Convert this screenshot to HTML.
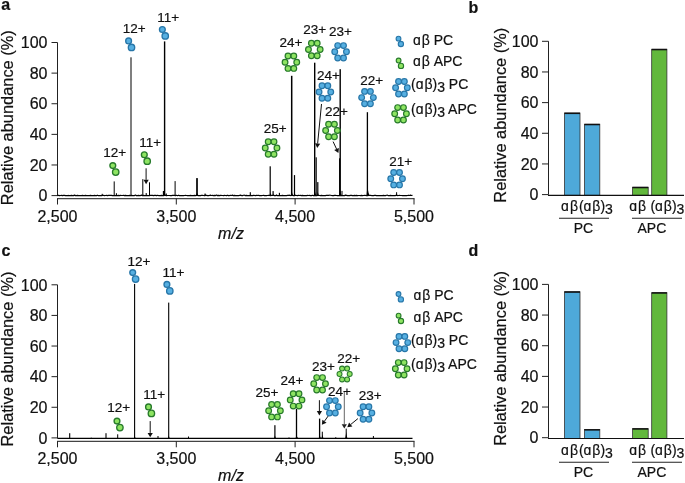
<!DOCTYPE html><html><head><meta charset="utf-8"><style>html,body{margin:0;padding:0;background:#fff;}svg{display:block;will-change:transform;}text{font-family:"Liberation Sans",sans-serif;fill:#111;stroke:#111;stroke-width:0.2px;}</style></head><body>
<svg width="685" height="483" viewBox="0 0 685 483">
<rect width="685" height="483" fill="#fff"/>
<text x="1.3" y="9.6" font-size="16" font-weight="bold">a</text>
<text x="468.5" y="13" font-size="16" font-weight="bold">b</text>
<text x="1.5" y="256.3" font-size="16" font-weight="bold">c</text>
<text x="468.5" y="256" font-size="16" font-weight="bold">d</text>
<g stroke="#222" stroke-width="1" fill="none">
<line x1="57.5" y1="42.5" x2="57.5" y2="196.1"/>
<line x1="51.5" y1="195.6" x2="57.5" y2="195.6"/>
<line x1="51.5" y1="164.98" x2="57.5" y2="164.98"/>
<line x1="51.5" y1="134.36" x2="57.5" y2="134.36"/>
<line x1="51.5" y1="103.74" x2="57.5" y2="103.74"/>
<line x1="51.5" y1="73.12" x2="57.5" y2="73.12"/>
<line x1="51.5" y1="42.5" x2="57.5" y2="42.5"/>
<line x1="57" y1="198.5" x2="414.5" y2="198.5" stroke="#444" stroke-width="1.25"/>
<line x1="57.5" y1="198.5" x2="57.5" y2="204.5"/>
<line x1="176.3" y1="198.5" x2="176.3" y2="204.5"/>
<line x1="295.1" y1="198.5" x2="295.1" y2="204.5"/>
<line x1="414" y1="198.5" x2="414" y2="204.5"/>
</g>
<text x="47.5" y="201.3" font-size="16" text-anchor="end">0</text>
<text x="47.5" y="170.68" font-size="16" text-anchor="end">20</text>
<text x="47.5" y="140.06" font-size="16" text-anchor="end">40</text>
<text x="47.5" y="109.44" font-size="16" text-anchor="end">60</text>
<text x="47.5" y="78.82" font-size="16" text-anchor="end">80</text>
<text x="47.5" y="48.2" font-size="16" text-anchor="end">100</text>
<text x="57.5" y="221.5" font-size="16" text-anchor="middle">2,500</text>
<text x="176.3" y="221.5" font-size="16" text-anchor="middle">3,500</text>
<text x="295.1" y="221.5" font-size="16" text-anchor="middle">4,500</text>
<text x="414" y="221.5" font-size="16" text-anchor="middle">5,500</text>
<text x="231" y="239" font-size="16" font-style="italic" text-anchor="middle">m/z</text>
<text transform="translate(12.8,117.7) rotate(-90)" font-size="16.4" text-anchor="middle">Relative abundance (%)</text>
<path d="M57.5 195.38L58.5 195.34L59.5 195.68L60.5 195.51L61.5 195.43L62.5 195.69L63.5 195.44L64.5 195.34L65.5 195.65L66.5 195.67L67.5 195.56L68.5 195.47L69.5 195.7L70.5 195.68L71.5 195.32L72.5 195.57L73.5 195.62L74.5 195.1L75.5 195.65L76.5 195.66L77.5 195.39L78.5 195.65L79.5 195.47L80.5 195.61L81.5 195.65L82.5 195.44L83.5 195.53L84.5 195.67L85.5 195.43L86.5 195.59L87.5 195.68L88.5 195.52L89.5 195.65L90.5 195.43L91.5 195.69L92.5 195.65L93.5 195.53L94.5 195.43L95.5 195.6L96.5 195.57L97.5 195.2L98.5 195.68L99.5 195.54L100.5 195.55L101.5 195.63L102.5 195.31L103.5 195.46L104.5 195.6L105.5 195.52L106.5 195.37L107.5 195.59L108.5 195.39L109.5 195.34L110.5 195.37L111.5 195.37L112.5 195.69L113.5 195.52L114.5 195.66L115.5 195.62L116.5 195.45L117.5 195.55L118.5 195.42L119.5 195.59L120.5 195.34L121.5 195.51L122.5 195.51L123.5 195.27L124.5 195.68L125.5 195.45L126.5 195.67L127.5 195.64L128.5 195.7L129.5 195.32L130.5 195.59L131.5 195.37L132.5 195.66L133.5 195.58L134.5 195.61L135.5 194.99L136.5 195.69L137.5 195.66L138.5 195.39L139.5 195.58L140.5 195.56L141.5 195.09L142.5 195.65L143.5 195.46L144.5 195.57L145.5 195.66L146.5 195.39L147.5 195.67L148.5 195.69L149.5 195.6L150.5 195.25L151.5 195.39L152.5 195.43L153.5 195.59L154.5 195.42L155.5 195.46L156.5 195.6L157.5 195.23L158.5 195.53L159.5 195.55L160.5 195.63L161.5 195.41L162.5 195.69L163.5 195.56L164.5 195.52L165.5 195.36L166.5 195.62L167.5 195.49L168.5 195.52L169.5 195.52L170.5 195.67L171.5 195.55L172.5 195.4L173.5 195.41L174.5 195.36L175.5 195.57L176.5 195.26L177.5 195.68L178.5 195.22L179.5 195.65L180.5 195.61L181.5 195.66L182.5 195.7L183.5 195.69L184.5 195.51L185.5 195.43L186.5 195.48L187.5 195.65L188.5 195.62L189.5 195.54L190.5 195.44L191.5 195.6L192.5 195.53L193.5 195.63L194.5 195.43L195.5 195.58L196.5 195.45L197.5 195.46L198.5 195.66L199.5 195.56L200.5 195.62L201.5 195.28L202.5 195.36L203.5 195.53L204.5 195.69L205.5 195.34L206.5 195.42L207.5 195.65L208.5 195.69L209.5 195.46L210.5 195.38L211.5 195.49L212.5 195.37L213.5 195.56L214.5 195.42L215.5 195.57L216.5 195.03L217.5 195.61L218.5 195.41L219.5 195.64L220.5 195.34L221.5 195.44L222.5 195.5L223.5 195.55L224.5 195.38L225.5 195.5L226.5 195.62L227.5 195.2L228.5 195.6L229.5 195.53L230.5 195.24L231.5 195.48L232.5 195.15L233.5 195.69L234.5 195.44L235.5 195.7L236.5 195.67L237.5 195.65L238.5 195.65L239.5 195.43L240.5 195.12L241.5 195.56L242.5 195.63L243.5 195.25L244.5 195.2L245.5 195.62L246.5 195.41L247.5 195.53L248.5 195.54L249.5 195.6L250.5 195.34L251.5 195.55L252.5 195.63L253.5 195.41L254.5 195.47L255.5 195.62L256.5 195.42L257.5 195.47L258.5 195.25L259.5 195.66L260.5 195.67L261.5 195.63L262.5 195.49L263.5 195.26L264.5 195.66L265.5 195.61L266.5 195.55L267.5 195.48L268.5 195.28L269.5 195.49L270.5 195.61L271.5 195.42L272.5 195.44L273.5 194.98L274.5 195.63L275.5 195.66L276.5 195.3L277.5 195.57L278.5 195.62L279.5 195.55L280.5 195.61L281.5 195.68L282.5 195.36L283.5 195.57L284.5 195.5L285.5 195.59L286.5 195.53L287.5 195.47L288.5 195.45L289.5 195.2L290.5 195.55L291.5 195.49L292.5 195.46L293.5 195.64L294.5 195.66L295.5 195.25L296.5 195.48L297.5 195.59L298.5 195.24L299.5 195.51L300.5 195.41L301.5 195.65L302.5 195.46L303.5 195.54L304.5 195.62L305.5 195.53L306.5 195.6L307.5 195.45L308.5 195.5L309.5 195.45L310.5 195.57L311.5 195.63L312.5 195.27L313.5 195.68L314.5 195.67L315.5 195.65L316.5 195.6L317.5 195.31L318.5 195.36L319.5 195.52L320.5 195.65L321.5 195.44L322.5 195.68L323.5 195.59L324.5 195.6L325.5 195.68L326.5 195.29L327.5 195.26L328.5 195.37L329.5 195.22L330.5 195.24L331.5 195.52L332.5 195.59L333.5 195.69L334.5 195.42L335.5 195.41L336.5 195.49L337.5 195.66L338.5 195.69L339.5 195.49L340.5 195.68L341.5 195.48L342.5 195.54L343.5 195.67L344.5 195.62L345.5 195.13L346.5 195.36L347.5 195.58L348.5 195.68L349.5 195.62L350.5 195.36L351.5 195.39L352.5 195.66L353.5 195.56L354.5 195.36L355.5 195.68L356.5 195.39L357.5 195.63L358.5 195.52L359.5 195.52L360.5 195.6L361.5 195.43L362.5 195.67L363.5 195.49L364.5 195.41L365.5 195.47L366.5 195.61L367.5 195.62L368.5 195.49L369.5 195.5L370.5 195.26L371.5 195.53L372.5 195.57L373.5 195.54L374.5 195.43L375.5 195.4L376.5 195.54L377.5 195.7L378.5 195.65L379.5 195.7L380.5 195.6L381.5 195.61L382.5 195.67L383.5 195.38L384.5 195.54L385.5 195.59L386.5 195.27L387.5 195.2L388.5 195.68L389.5 195.53L390.5 195.46L391.5 195.67L392.5 195.6L393.5 195.55L394.5 195.65L395.5 195.58L396.5 194.99L397.5 195.6L398.5 195.5L399.5 195.46L400.5 195.51L401.5 195.52L402.5 195.6L403.5 195.59L404.5 195.61L405.5 195.65L406.5 195.67L407.5 195.48L408.5 195.21L409.5 195.52L410.5 195.19L411.5 195.48L412.5 195.35" fill="none" stroke="#000" stroke-width="1.2" stroke-linejoin="round"/>
<rect x="101.7" y="193.8" width="1" height="2.2" fill="#000"/>
<rect x="113.7" y="181.4" width="1" height="14.6" fill="#000"/>
<rect x="115.9" y="193.2" width="1" height="2.8" fill="#000"/>
<rect x="130.5" y="57.3" width="1" height="138.7" fill="#000"/>
<rect x="142.3" y="179.2" width="1" height="16.8" fill="#000"/>
<rect x="145.7" y="193" width="1" height="3" fill="#000"/>
<rect x="149" y="182.3" width="1" height="13.7" fill="#000"/>
<rect x="162.85" y="191" width="1.3" height="5" fill="#000"/>
<rect x="163.9" y="41.4" width="1.4" height="154.6" fill="#000"/>
<path d="M164.6 191.7Q165.3 195.2 166.5 195.7L163.6 195.7Q163.9 195.2 164.6 191.7Z" fill="#000"/>
<rect x="166.2" y="193.5" width="0.8" height="2.5" fill="#000"/>
<rect x="174.6" y="181.1" width="1" height="14.9" fill="#000"/>
<rect x="196.15" y="178.1" width="1.7" height="17.9" fill="#000"/>
<path d="M197 192.7Q197.85 195.2 198.85 195.7L195.85 195.7Q196.15 195.2 197 192.7Z" fill="#000"/>
<rect x="204.45" y="193.6" width="1.3" height="2.4" fill="#000"/>
<rect x="209.9" y="194.6" width="0.8" height="1.4" fill="#000"/>
<rect x="249.75" y="192.2" width="1.1" height="3.8" fill="#000"/>
<rect x="269.6" y="166.3" width="1.2" height="29.7" fill="#000"/>
<path d="M270.2 192.7Q270.8 195.2 271.8 195.7L269.3 195.7Q269.6 195.2 270.2 192.7Z" fill="#000"/>
<rect x="272.5" y="191.1" width="1.2" height="4.9" fill="#000"/>
<rect x="276.2" y="194.5" width="0.8" height="1.5" fill="#000"/>
<rect x="278.85" y="192.8" width="1.1" height="3.2" fill="#000"/>
<rect x="290.95" y="75.8" width="1.5" height="120.2" fill="#000"/>
<path d="M291.7 190.7Q292.45 195.2 293.75 195.7L290.55 195.7Q290.95 195.2 291.7 190.7Z" fill="#000"/>
<rect x="293.9" y="175.1" width="1.2" height="20.9" fill="#000"/>
<path d="M294.5 192.7Q295.1 195.2 296.1 195.7L293.6 195.7Q293.9 195.2 294.5 192.7Z" fill="#000"/>
<rect x="314" y="62.7" width="1.4" height="133.3" fill="#000"/>
<path d="M314.7 189.7Q315.4 195.2 316.9 195.7L313.6 195.7Q314 195.2 314.7 189.7Z" fill="#000"/>
<rect x="315.65" y="157.3" width="1.1" height="38.7" fill="#000"/>
<rect x="317.2" y="182.1" width="1.2" height="13.9" fill="#000"/>
<path d="M317.8 191.7Q318.4 195.2 319.4 195.7L317 195.7Q317.2 195.2 317.8 191.7Z" fill="#000"/>
<rect x="339.05" y="158.3" width="1.1" height="37.7" fill="#000"/>
<rect x="339.5" y="69.2" width="1.4" height="126.8" fill="#000"/>
<path d="M340.2 189.7Q340.9 195.2 342.4 195.7L339.1 195.7Q339.5 195.2 340.2 189.7Z" fill="#000"/>
<rect x="341.5" y="190.9" width="1" height="5.1" fill="#000"/>
<rect x="366.75" y="112.2" width="1.3" height="83.8" fill="#000"/>
<path d="M367.4 184.7Q368.05 195.2 370.65 195.7L366.35 195.7Q366.75 195.2 367.4 184.7Z" fill="#000"/>
<rect x="396.1" y="192.2" width="1" height="3.8" fill="#000"/>
<text x="134.2" y="33.4" font-size="13.5" text-anchor="middle">12+</text>
<g fill="#56afe1" stroke="#2776a8" stroke-width="1.35">
<circle cx="128.6" cy="40.9" r="2.9"/>
<circle cx="131.5" cy="47.4" r="3.2"/>
</g>
<text x="168.2" y="21.6" font-size="13.5" text-anchor="middle">11+</text>
<g fill="#56afe1" stroke="#2776a8" stroke-width="1.35">
<circle cx="162.35" cy="29.45" r="2.9"/>
<circle cx="165.25" cy="35.95" r="3.2"/>
</g>
<text x="114.8" y="157.3" font-size="13.5" text-anchor="middle">12+</text>
<g fill="#8ee462" stroke="#277a2b" stroke-width="1.35">
<circle cx="112.8" cy="165.6" r="2.9"/>
<circle cx="115.7" cy="172.1" r="3.2"/>
</g>
<text x="150.2" y="146.6" font-size="13.5" text-anchor="middle">11+</text>
<g fill="#8ee462" stroke="#277a2b" stroke-width="1.35">
<circle cx="144.3" cy="154.7" r="2.9"/>
<circle cx="147.2" cy="161.2" r="3.2"/>
</g>
<line x1="146.1" y1="168.3" x2="146.1" y2="179.8" stroke="#111" stroke-width="1"/>
<path d="M146.1 184.2L143.5 179.8L148.7 179.8Z" fill="#111"/>
<text x="275.2" y="133.3" font-size="13.5" text-anchor="middle">25+</text>
<g fill="#8ee462" stroke="#277a2b" stroke-width="1.2">
<circle cx="268.2" cy="141.8" r="2.85"/>
<circle cx="274" cy="141.8" r="2.85"/>
<circle cx="265.25" cy="148" r="2.85"/>
<circle cx="276.95" cy="148" r="2.85"/>
<circle cx="268.2" cy="154.2" r="2.85"/>
<circle cx="274" cy="154.2" r="2.85"/>
</g>
<text x="291" y="47.2" font-size="13.5" text-anchor="middle">24+</text>
<g fill="#8ee462" stroke="#277a2b" stroke-width="1.2">
<circle cx="288" cy="56" r="2.85"/>
<circle cx="293.8" cy="56" r="2.85"/>
<circle cx="285.05" cy="62.2" r="2.85"/>
<circle cx="296.75" cy="62.2" r="2.85"/>
<circle cx="288" cy="68.4" r="2.85"/>
<circle cx="293.8" cy="68.4" r="2.85"/>
</g>
<text x="314.8" y="33.5" font-size="13.5" text-anchor="middle">23+</text>
<g fill="#8ee462" stroke="#277a2b" stroke-width="1.2">
<circle cx="311.4" cy="43.3" r="2.85"/>
<circle cx="317.2" cy="43.3" r="2.85"/>
<circle cx="308.45" cy="49.5" r="2.85"/>
<circle cx="320.15" cy="49.5" r="2.85"/>
<circle cx="311.4" cy="55.7" r="2.85"/>
<circle cx="317.2" cy="55.7" r="2.85"/>
</g>
<text x="340.5" y="36.1" font-size="13.5" text-anchor="middle">23+</text>
<g fill="#56afe1" stroke="#2776a8" stroke-width="1.2">
<circle cx="337.7" cy="45.6" r="2.85"/>
<circle cx="343.5" cy="45.6" r="2.85"/>
<circle cx="334.75" cy="51.8" r="2.85"/>
<circle cx="346.45" cy="51.8" r="2.85"/>
<circle cx="337.7" cy="58" r="2.85"/>
<circle cx="343.5" cy="58" r="2.85"/>
</g>
<text x="328.5" y="80.3" font-size="13.5" text-anchor="middle">24+</text>
<g fill="#56afe1" stroke="#2776a8" stroke-width="1.2">
<circle cx="322" cy="85.8" r="2.85"/>
<circle cx="327.8" cy="85.8" r="2.85"/>
<circle cx="319.05" cy="92" r="2.85"/>
<circle cx="330.75" cy="92" r="2.85"/>
<circle cx="322" cy="98.2" r="2.85"/>
<circle cx="327.8" cy="98.2" r="2.85"/>
</g>
<line x1="321.5" y1="104" x2="317.63" y2="143.52" stroke="#111" stroke-width="1"/>
<path d="M317.2 147.9L315.04 143.27L320.22 143.77Z" fill="#111"/>
<text x="336.5" y="116" font-size="13.5" text-anchor="middle">22+</text>
<g fill="#8ee462" stroke="#277a2b" stroke-width="1.2">
<circle cx="328.6" cy="124.3" r="2.85"/>
<circle cx="334.4" cy="124.3" r="2.85"/>
<circle cx="325.65" cy="130.5" r="2.85"/>
<circle cx="337.35" cy="130.5" r="2.85"/>
<circle cx="328.6" cy="136.7" r="2.85"/>
<circle cx="334.4" cy="136.7" r="2.85"/>
</g>
<line x1="333.1" y1="141.6" x2="336.55" y2="149.01" stroke="#111" stroke-width="1"/>
<path d="M338.4 153L334.19 150.11L338.9 147.91Z" fill="#111"/>
<text x="371.7" y="84.5" font-size="13.5" text-anchor="middle">22+</text>
<g fill="#56afe1" stroke="#2776a8" stroke-width="1.2">
<circle cx="364.6" cy="91.4" r="2.85"/>
<circle cx="370.4" cy="91.4" r="2.85"/>
<circle cx="361.65" cy="97.6" r="2.85"/>
<circle cx="373.35" cy="97.6" r="2.85"/>
<circle cx="364.6" cy="103.8" r="2.85"/>
<circle cx="370.4" cy="103.8" r="2.85"/>
</g>
<text x="400.7" y="165.7" font-size="13.5" text-anchor="middle">21+</text>
<g fill="#56afe1" stroke="#2776a8" stroke-width="1.2">
<circle cx="393.7" cy="172.5" r="2.85"/>
<circle cx="399.5" cy="172.5" r="2.85"/>
<circle cx="390.75" cy="178.7" r="2.85"/>
<circle cx="402.45" cy="178.7" r="2.85"/>
<circle cx="393.7" cy="184.9" r="2.85"/>
<circle cx="399.5" cy="184.9" r="2.85"/>
</g>
<g fill="#56afe1" stroke="#2776a8" stroke-width="1.11">
<circle cx="398.5" cy="38.65" r="2.38"/>
<circle cx="400.88" cy="43.98" r="2.62"/>
</g>
<text x="412.9" y="44.7" font-size="14" text-anchor="start">ɑ<tspan dx="1">β</tspan> PC</text>
<g fill="#8ee462" stroke="#277a2b" stroke-width="1.11">
<circle cx="398.6" cy="60.55" r="2.38"/>
<circle cx="400.98" cy="65.88" r="2.62"/>
</g>
<text x="412.9" y="66.4" font-size="14" text-anchor="start">ɑ<tspan dx="1">β</tspan> APC</text>
<g fill="#56afe1" stroke="#2776a8" stroke-width="1.2">
<circle cx="398.55" cy="81.55" r="2.85"/>
<circle cx="404.35" cy="81.55" r="2.85"/>
<circle cx="395.6" cy="87.75" r="2.85"/>
<circle cx="407.3" cy="87.75" r="2.85"/>
<circle cx="398.55" cy="93.95" r="2.85"/>
<circle cx="404.35" cy="93.95" r="2.85"/>
</g>
<text x="411" y="89.3" font-size="14" text-anchor="start">(ɑ<tspan dx="1">β</tspan>)<tspan dy="3">3</tspan><tspan dy="-3"> PC</tspan></text>
<g fill="#8ee462" stroke="#277a2b" stroke-width="1.2">
<circle cx="397.65" cy="107.6" r="2.85"/>
<circle cx="403.45" cy="107.6" r="2.85"/>
<circle cx="394.7" cy="113.8" r="2.85"/>
<circle cx="406.4" cy="113.8" r="2.85"/>
<circle cx="397.65" cy="120" r="2.85"/>
<circle cx="403.45" cy="120" r="2.85"/>
</g>
<text x="411" y="114.3" font-size="14" text-anchor="start">(ɑ<tspan dx="1">β</tspan>)<tspan dy="3">3</tspan><tspan dy="-3"> APC</tspan></text>
<g stroke="#222" stroke-width="1" fill="none">
<line x1="548.5" y1="41.3" x2="548.5" y2="194.6"/>
<line x1="542" y1="194.6" x2="548.5" y2="194.6"/>
<line x1="542" y1="163.94" x2="548.5" y2="163.94"/>
<line x1="542" y1="133.28" x2="548.5" y2="133.28"/>
<line x1="542" y1="102.62" x2="548.5" y2="102.62"/>
<line x1="542" y1="71.96" x2="548.5" y2="71.96"/>
<line x1="542" y1="41.3" x2="548.5" y2="41.3"/>
</g>
<rect x="564.5" y="113.04" width="15.5" height="82.26" fill="#4ea9d9" stroke="#333" stroke-width="0.8"/>
<line x1="564.5" y1="113.34" x2="580" y2="113.34" stroke="#111" stroke-width="1.5"/>
<rect x="584.5" y="124.24" width="15.3" height="71.06" fill="#4ea9d9" stroke="#333" stroke-width="0.8"/>
<line x1="584.5" y1="124.54" x2="599.8" y2="124.54" stroke="#111" stroke-width="1.5"/>
<rect x="632.6" y="187.24" width="15.6" height="8.06" fill="#62b83c" stroke="#333" stroke-width="0.8"/>
<line x1="632.6" y1="187.54" x2="648.2" y2="187.54" stroke="#111" stroke-width="1.5"/>
<rect x="651.7" y="49.27" width="15.2" height="146.03" fill="#62b83c" stroke="#333" stroke-width="0.8"/>
<line x1="651.7" y1="49.57" x2="666.9" y2="49.57" stroke="#111" stroke-width="1.5"/>
<line x1="548" y1="195.4" x2="684" y2="195.4" stroke="#111" stroke-width="1.2"/>
<text x="538.5" y="200.3" font-size="16" text-anchor="end">0</text>
<text x="538.5" y="169.64" font-size="16" text-anchor="end">20</text>
<text x="538.5" y="138.98" font-size="16" text-anchor="end">40</text>
<text x="538.5" y="108.32" font-size="16" text-anchor="end">60</text>
<text x="538.5" y="77.66" font-size="16" text-anchor="end">80</text>
<text x="538.5" y="47" font-size="16" text-anchor="end">100</text>
<text transform="translate(506.3,115.2) rotate(-90)" font-size="16.4" text-anchor="middle">Relative abundance (%)</text>
<text x="561.1" y="210.8" font-size="14" text-anchor="start">ɑ<tspan dx="1">β</tspan></text>
<text x="578.9" y="210.8" font-size="14" text-anchor="start">(ɑ<tspan dx="1">β</tspan>)<tspan dy="3">3</tspan><tspan dy="-3"></tspan></text>
<text x="629.2" y="210.8" font-size="14" text-anchor="start">ɑ<tspan dx="1">β</tspan></text>
<text x="650.4" y="210.8" font-size="14" text-anchor="start">(ɑ<tspan dx="1">β</tspan>)<tspan dy="3">3</tspan><tspan dy="-3"></tspan></text>
<line x1="559" y1="218.2" x2="609" y2="218.2" stroke="#222" stroke-width="1.1"/>
<line x1="632" y1="218.2" x2="682" y2="218.2" stroke="#222" stroke-width="1.1"/>
<text x="583.5" y="232.5" font-size="14" text-anchor="middle">PC</text>
<text x="651.9" y="232.5" font-size="14" text-anchor="middle">APC</text>
<g stroke="#222" stroke-width="1" fill="none">
<line x1="57.5" y1="284.8" x2="57.5" y2="438.4"/>
<line x1="51.5" y1="437.9" x2="57.5" y2="437.9"/>
<line x1="51.5" y1="407.28" x2="57.5" y2="407.28"/>
<line x1="51.5" y1="376.66" x2="57.5" y2="376.66"/>
<line x1="51.5" y1="346.04" x2="57.5" y2="346.04"/>
<line x1="51.5" y1="315.42" x2="57.5" y2="315.42"/>
<line x1="51.5" y1="284.8" x2="57.5" y2="284.8"/>
<line x1="57" y1="441.3" x2="414.5" y2="441.3" stroke="#444" stroke-width="1.25"/>
<line x1="57.5" y1="441.3" x2="57.5" y2="447.3"/>
<line x1="176.3" y1="441.3" x2="176.3" y2="447.3"/>
<line x1="295.1" y1="441.3" x2="295.1" y2="447.3"/>
<line x1="414" y1="441.3" x2="414" y2="447.3"/>
</g>
<text x="47.5" y="443.6" font-size="16" text-anchor="end">0</text>
<text x="47.5" y="412.98" font-size="16" text-anchor="end">20</text>
<text x="47.5" y="382.36" font-size="16" text-anchor="end">40</text>
<text x="47.5" y="351.74" font-size="16" text-anchor="end">60</text>
<text x="47.5" y="321.12" font-size="16" text-anchor="end">80</text>
<text x="47.5" y="290.5" font-size="16" text-anchor="end">100</text>
<text x="57.5" y="463.6" font-size="16" text-anchor="middle">2,500</text>
<text x="176.3" y="463.6" font-size="16" text-anchor="middle">3,500</text>
<text x="295.1" y="463.6" font-size="16" text-anchor="middle">4,500</text>
<text x="414" y="463.6" font-size="16" text-anchor="middle">5,500</text>
<text x="231" y="481.1" font-size="16" font-style="italic" text-anchor="middle">m/z</text>
<text transform="translate(12.8,359) rotate(-90)" font-size="16.4" text-anchor="middle">Relative abundance (%)</text>
<path d="M57.5 438.33L58.5 438.42L59.5 438.43L60.5 438.44L61.5 438.41L62.5 438.38L63.5 438.43L64.5 438.41L65.5 438.4L66.5 438.41L67.5 438.42L68.5 438.44L69.5 438.4L70.5 438.43L71.5 438.42L72.5 438.29L73.5 438.39L74.5 438.43L75.5 438.41L76.5 438.44L77.5 438.44L78.5 438.45L79.5 438.41L80.5 438.44L81.5 438.37L82.5 438.38L83.5 438.39L84.5 438.44L85.5 438.45L86.5 438.44L87.5 438.44L88.5 438.43L89.5 438.27L90.5 438.44L91.5 438.44L92.5 438.42L93.5 438.38L94.5 438.39L95.5 438.44L96.5 438.34L97.5 438.44L98.5 438.36L99.5 438.36L100.5 438.34L101.5 438.42L102.5 438.44L103.5 438.45L104.5 438.37L105.5 438.39L106.5 438.44L107.5 438.34L108.5 438.44L109.5 438.36L110.5 438.45L111.5 438.39L112.5 438.37L113.5 438.41L114.5 438.42L115.5 438.35L116.5 438.4L117.5 438.44L118.5 438.39L119.5 438.44L120.5 438.41L121.5 438.44L122.5 438.42L123.5 438.42L124.5 438.43L125.5 438.41L126.5 438.43L127.5 438.37L128.5 438.43L129.5 438.39L130.5 438.45L131.5 438.41L132.5 438.4L133.5 438.44L134.5 438.42L135.5 438.33L136.5 438.44L137.5 438.44L138.5 438.44L139.5 438.42L140.5 438.38L141.5 438.42L142.5 438.43L143.5 438.45L144.5 438.43L145.5 438.43L146.5 438.42L147.5 438.44L148.5 438.35L149.5 438.4L150.5 438.41L151.5 438.43L152.5 438.42L153.5 438.42L154.5 438.35L155.5 438.38L156.5 438.41L157.5 438.4L158.5 438.44L159.5 438.41L160.5 438.38L161.5 438.34L162.5 438.39L163.5 438.37L164.5 438.44L165.5 438.41L166.5 438.44L167.5 438.44L168.5 438.42L169.5 438.42L170.5 438.38L171.5 438.44L172.5 438.44L173.5 438.42L174.5 438.45L175.5 438.41L176.5 438.44L177.5 438.39L178.5 438.4L179.5 438.42L180.5 438.42L181.5 438.4L182.5 438.44L183.5 438.44L184.5 438.37L185.5 438.38L186.5 438.4L187.5 438.4L188.5 438.39L189.5 438.41L190.5 438.44L191.5 438.43L192.5 438.41L193.5 438.41L194.5 438.42L195.5 438.43L196.5 438.43L197.5 438.41L198.5 438.42L199.5 438.42L200.5 438.45L201.5 438.41L202.5 438.44L203.5 438.41L204.5 438.42L205.5 438.39L206.5 438.44L207.5 438.44L208.5 438.44L209.5 438.42L210.5 438.44L211.5 438.39L212.5 438.41L213.5 438.31L214.5 438.44L215.5 438.3L216.5 438.39L217.5 438.44L218.5 438.4L219.5 438.45L220.5 438.38L221.5 438.39L222.5 438.39L223.5 438.44L224.5 438.41L225.5 438.4L226.5 438.42L227.5 438.44L228.5 438.45L229.5 438.43L230.5 438.44L231.5 438.44L232.5 438.41L233.5 438.42L234.5 438.43L235.5 438.45L236.5 438.42L237.5 438.39L238.5 438.44L239.5 438.42L240.5 438.38L241.5 438.42L242.5 438.34L243.5 438.37L244.5 438.43L245.5 438.4L246.5 438.43L247.5 438.44L248.5 438.44L249.5 438.4L250.5 438.42L251.5 438.44L252.5 438.43L253.5 438.43L254.5 438.4L255.5 438.34L256.5 438.44L257.5 438.42L258.5 438.42L259.5 438.4L260.5 438.45L261.5 438.37L262.5 438.44L263.5 438.42L264.5 438.42L265.5 438.41L266.5 438.39L267.5 438.4L268.5 438.44L269.5 438.4L270.5 438.42L271.5 438.43L272.5 438.39L273.5 438.41L274.5 438.43L275.5 438.37L276.5 438.37L277.5 438.38L278.5 438.41L279.5 438.43L280.5 438.39L281.5 438.41L282.5 438.41L283.5 438.45L284.5 438.4L285.5 438.43L286.5 438.43L287.5 438.36L288.5 438.4L289.5 438.37L290.5 438.35L291.5 438.45L292.5 438.44L293.5 438.4L294.5 438.38L295.5 438.44L296.5 438.39L297.5 438.42L298.5 438.41L299.5 438.44L300.5 438.41L301.5 438.39L302.5 438.44L303.5 438.36L304.5 438.42L305.5 438.36L306.5 438.41L307.5 438.44L308.5 438.42L309.5 438.41L310.5 438.45L311.5 438.38L312.5 438.42L313.5 438.39L314.5 438.42L315.5 438.44L316.5 438.43L317.5 438.34L318.5 438.31L319.5 438.42L320.5 438.41L321.5 438.43L322.5 438.44L323.5 438.33L324.5 438.36L325.5 438.43L326.5 438.43L327.5 438.44L328.5 438.42L329.5 438.41L330.5 438.38L331.5 438.39L332.5 438.43L333.5 438.4L334.5 438.41L335.5 438.37L336.5 438.42L337.5 438.4L338.5 438.42L339.5 438.44L340.5 438.41L341.5 438.41L342.5 438.42L343.5 438.44L344.5 438.4L345.5 438.36L346.5 438.45L347.5 438.42L348.5 438.44L349.5 438.44L350.5 438.45L351.5 438.36L352.5 438.39L353.5 438.42L354.5 438.4L355.5 438.4L356.5 438.44L357.5 438.42L358.5 438.34L359.5 438.43L360.5 438.4L361.5 438.41L362.5 438.44L363.5 438.45L364.5 438.38L365.5 438.44L366.5 438.35L367.5 438.44L368.5 438.38L369.5 438.39L370.5 438.41L371.5 438.38L372.5 438.44L373.5 438.39L374.5 438.45L375.5 438.43L376.5 438.35L377.5 438.4L378.5 438.38L379.5 438.33L380.5 438.44L381.5 438.44L382.5 438.38L383.5 438.36L384.5 438.39L385.5 438.38L386.5 438.4L387.5 438.45L388.5 438.42L389.5 438.45L390.5 438.38L391.5 438.42L392.5 438.37L393.5 438.41L394.5 438.4L395.5 438.41L396.5 438.43L397.5 438.4L398.5 438.43L399.5 438.41L400.5 438.32L401.5 438.45L402.5 438.45L403.5 438.36L404.5 438.44L405.5 438.4L406.5 438.38L407.5 438.38L408.5 438.44L409.5 438.43L410.5 438.42L411.5 438.44L412.5 438.45" fill="none" stroke="#000" stroke-width="1.2" stroke-linejoin="round"/>
<rect x="69.15" y="433.2" width="1.1" height="5.55" fill="#000"/>
<rect x="90.8" y="437.6" width="0.8" height="1.15" fill="#000"/>
<rect x="105.45" y="433.2" width="1.1" height="5.55" fill="#000"/>
<rect x="117.2" y="434.3" width="1" height="4.45" fill="#000"/>
<rect x="134.05" y="283.9" width="1.1" height="154.85" fill="#000"/>
<path d="M134.6 435.45Q135.15 437.95 136.15 438.45L133.75 438.45Q134.05 437.95 134.6 435.45Z" fill="#000"/>
<rect x="157.5" y="436" width="1" height="2.75" fill="#000"/>
<rect x="168.15" y="302.6" width="1.1" height="136.15" fill="#000"/>
<path d="M168.7 435.45Q169.25 437.95 170.25 438.45L167.85 438.45Q168.15 437.95 168.7 435.45Z" fill="#000"/>
<rect x="188" y="436.5" width="1" height="2.25" fill="#000"/>
<rect x="274.3" y="425.2" width="1.2" height="13.55" fill="#000"/>
<path d="M274.9 435.45Q275.5 437.95 276.5 438.45L274 438.45Q274.3 437.95 274.9 435.45Z" fill="#000"/>
<rect x="288.6" y="437.3" width="0.8" height="1.45" fill="#000"/>
<rect x="295.85" y="409" width="1.3" height="29.75" fill="#000"/>
<path d="M296.5 434.45Q297.15 437.95 298.35 438.45L295.55 438.45Q295.85 437.95 296.5 434.45Z" fill="#000"/>
<rect x="318.95" y="418.6" width="1.3" height="20.15" fill="#000"/>
<path d="M319.6 434.45Q320.25 437.95 321.25 438.45L318.65 438.45Q318.95 437.95 319.6 434.45Z" fill="#000"/>
<rect x="321.8" y="431.7" width="1" height="7.05" fill="#000"/>
<path d="M322.3 434.45Q322.8 437.95 323.8 438.45L321.2 438.45Q321.8 437.95 322.3 434.45Z" fill="#000"/>
<rect x="335.4" y="437" width="0.8" height="1.75" fill="#000"/>
<rect x="345.7" y="428.6" width="1" height="10.15" fill="#000"/>
<path d="M346.2 431.45Q346.7 437.95 348 438.45L344.7 438.45Q345.7 437.95 346.2 431.45Z" fill="#000"/>
<rect x="372.9" y="436" width="1" height="2.75" fill="#000"/>
<text x="138.9" y="265.6" font-size="13.5" text-anchor="middle">12+</text>
<g fill="#56afe1" stroke="#2776a8" stroke-width="1.35">
<circle cx="132.7" cy="272.6" r="2.9"/>
<circle cx="135.6" cy="279.1" r="3.2"/>
</g>
<text x="173.5" y="277.2" font-size="13.5" text-anchor="middle">11+</text>
<g fill="#56afe1" stroke="#2776a8" stroke-width="1.35">
<circle cx="166.9" cy="284.4" r="2.9"/>
<circle cx="169.8" cy="290.9" r="3.2"/>
</g>
<text x="118.6" y="411.5" font-size="13.5" text-anchor="middle">12+</text>
<g fill="#8ee462" stroke="#277a2b" stroke-width="1.35">
<circle cx="117" cy="421.1" r="2.9"/>
<circle cx="119.9" cy="427.6" r="3.2"/>
</g>
<text x="154.3" y="399.4" font-size="13.5" text-anchor="middle">11+</text>
<g fill="#8ee462" stroke="#277a2b" stroke-width="1.35">
<circle cx="148.5" cy="406.9" r="2.9"/>
<circle cx="151.4" cy="413.4" r="3.2"/>
</g>
<line x1="150.2" y1="421.1" x2="150.2" y2="432.9" stroke="#111" stroke-width="1"/>
<path d="M150.2 437.3L147.6 432.9L152.8 432.9Z" fill="#111"/>
<text x="267" y="397.1" font-size="13.5" text-anchor="middle">25+</text>
<g fill="#8ee462" stroke="#277a2b" stroke-width="1.2">
<circle cx="271.6" cy="404.5" r="2.85"/>
<circle cx="277.4" cy="404.5" r="2.85"/>
<circle cx="268.65" cy="410.7" r="2.85"/>
<circle cx="280.35" cy="410.7" r="2.85"/>
<circle cx="271.6" cy="416.9" r="2.85"/>
<circle cx="277.4" cy="416.9" r="2.85"/>
</g>
<text x="291.9" y="385.4" font-size="13.5" text-anchor="middle">24+</text>
<g fill="#8ee462" stroke="#277a2b" stroke-width="1.2">
<circle cx="293.2" cy="393.7" r="2.85"/>
<circle cx="299" cy="393.7" r="2.85"/>
<circle cx="290.25" cy="399.9" r="2.85"/>
<circle cx="301.95" cy="399.9" r="2.85"/>
<circle cx="293.2" cy="406.1" r="2.85"/>
<circle cx="299" cy="406.1" r="2.85"/>
</g>
<text x="323.4" y="370.6" font-size="13.5" text-anchor="middle">23+</text>
<g fill="#8ee462" stroke="#277a2b" stroke-width="1.2">
<circle cx="316.7" cy="377.6" r="2.85"/>
<circle cx="322.5" cy="377.6" r="2.85"/>
<circle cx="313.75" cy="383.8" r="2.85"/>
<circle cx="325.45" cy="383.8" r="2.85"/>
<circle cx="316.7" cy="390" r="2.85"/>
<circle cx="322.5" cy="390" r="2.85"/>
</g>
<line x1="319.4" y1="400.2" x2="319.4" y2="411" stroke="#111" stroke-width="1"/>
<path d="M319.4 415.4L316.8 411L322 411Z" fill="#111"/>
<text x="348.8" y="363.1" font-size="13.5" text-anchor="middle">22+</text>
<g fill="#8ee462" stroke="#277a2b" stroke-width="1.04">
<circle cx="342.08" cy="368.61" r="2.48"/>
<circle cx="347.12" cy="368.61" r="2.48"/>
<circle cx="339.51" cy="374" r="2.48"/>
<circle cx="349.69" cy="374" r="2.48"/>
<circle cx="342.08" cy="379.39" r="2.48"/>
<circle cx="347.12" cy="379.39" r="2.48"/>
</g>
<line x1="344.3" y1="391" x2="344.3" y2="424.2" stroke="#666" stroke-width="1"/>
<path d="M344.3 428.6L341.7 424.2L346.9 424.2Z" fill="#222"/>
<text x="339.5" y="395.8" font-size="13.5" text-anchor="middle">24+</text>
<g fill="#56afe1" stroke="#2776a8" stroke-width="1.2">
<circle cx="329.5" cy="400.6" r="2.85"/>
<circle cx="335.3" cy="400.6" r="2.85"/>
<circle cx="326.55" cy="406.8" r="2.85"/>
<circle cx="338.25" cy="406.8" r="2.85"/>
<circle cx="329.5" cy="413" r="2.85"/>
<circle cx="335.3" cy="413" r="2.85"/>
</g>
<line x1="328.1" y1="416.1" x2="324.45" y2="421.22" stroke="#111" stroke-width="1"/>
<path d="M321.9 424.8L322.34 419.71L326.57 422.73Z" fill="#111"/>
<text x="370.2" y="399.9" font-size="13.5" text-anchor="middle">23+</text>
<g fill="#56afe1" stroke="#2776a8" stroke-width="1.2">
<circle cx="363.1" cy="406.8" r="2.85"/>
<circle cx="368.9" cy="406.8" r="2.85"/>
<circle cx="360.15" cy="413" r="2.85"/>
<circle cx="371.85" cy="413" r="2.85"/>
<circle cx="363.1" cy="419.2" r="2.85"/>
<circle cx="368.9" cy="419.2" r="2.85"/>
</g>
<line x1="357.9" y1="418.6" x2="350.7" y2="424.51" stroke="#111" stroke-width="1"/>
<path d="M347.3 427.3L349.05 422.5L352.35 426.52Z" fill="#111"/>
<g fill="#56afe1" stroke="#2776a8" stroke-width="1.11">
<circle cx="398.5" cy="294.05" r="2.38"/>
<circle cx="400.88" cy="299.38" r="2.62"/>
</g>
<text x="413.4" y="300.1" font-size="14" text-anchor="start">ɑ<tspan dx="1">β</tspan> PC</text>
<g fill="#8ee462" stroke="#277a2b" stroke-width="1.11">
<circle cx="398.6" cy="315.65" r="2.38"/>
<circle cx="400.98" cy="320.98" r="2.62"/>
</g>
<text x="413.4" y="321.5" font-size="14" text-anchor="start">ɑ<tspan dx="1">β</tspan> APC</text>
<g fill="#56afe1" stroke="#2776a8" stroke-width="1.2">
<circle cx="399" cy="336.4" r="2.85"/>
<circle cx="404.8" cy="336.4" r="2.85"/>
<circle cx="396.05" cy="342.6" r="2.85"/>
<circle cx="407.75" cy="342.6" r="2.85"/>
<circle cx="399" cy="348.8" r="2.85"/>
<circle cx="404.8" cy="348.8" r="2.85"/>
</g>
<text x="411" y="345.3" font-size="14" text-anchor="start">(ɑ<tspan dx="1">β</tspan>)<tspan dy="3">3</tspan><tspan dy="-3"> PC</tspan></text>
<g fill="#8ee462" stroke="#277a2b" stroke-width="1.2">
<circle cx="398.3" cy="362.6" r="2.85"/>
<circle cx="404.1" cy="362.6" r="2.85"/>
<circle cx="395.35" cy="368.8" r="2.85"/>
<circle cx="407.05" cy="368.8" r="2.85"/>
<circle cx="398.3" cy="375" r="2.85"/>
<circle cx="404.1" cy="375" r="2.85"/>
</g>
<text x="411" y="369.1" font-size="14" text-anchor="start">(ɑ<tspan dx="1">β</tspan>)<tspan dy="3">3</tspan><tspan dy="-3"> APC</tspan></text>
<g stroke="#222" stroke-width="1" fill="none">
<line x1="548.5" y1="284.4" x2="548.5" y2="437.7"/>
<line x1="542" y1="437.7" x2="548.5" y2="437.7"/>
<line x1="542" y1="407.04" x2="548.5" y2="407.04"/>
<line x1="542" y1="376.38" x2="548.5" y2="376.38"/>
<line x1="542" y1="345.72" x2="548.5" y2="345.72"/>
<line x1="542" y1="315.06" x2="548.5" y2="315.06"/>
<line x1="542" y1="284.4" x2="548.5" y2="284.4"/>
</g>
<rect x="564.5" y="291.76" width="15.5" height="146.64" fill="#4ea9d9" stroke="#333" stroke-width="0.8"/>
<line x1="564.5" y1="292.06" x2="580" y2="292.06" stroke="#111" stroke-width="1.5"/>
<rect x="584.5" y="429.58" width="15.3" height="8.82" fill="#4ea9d9" stroke="#333" stroke-width="0.8"/>
<line x1="584.5" y1="429.88" x2="599.8" y2="429.88" stroke="#111" stroke-width="1.5"/>
<rect x="632.6" y="428.66" width="15.6" height="9.74" fill="#62b83c" stroke="#333" stroke-width="0.8"/>
<line x1="632.6" y1="428.96" x2="648.2" y2="428.96" stroke="#111" stroke-width="1.5"/>
<rect x="651.7" y="292.68" width="15.2" height="145.72" fill="#62b83c" stroke="#333" stroke-width="0.8"/>
<line x1="651.7" y1="292.98" x2="666.9" y2="292.98" stroke="#111" stroke-width="1.5"/>
<line x1="548" y1="438.5" x2="684" y2="438.5" stroke="#111" stroke-width="1.2"/>
<text x="538.5" y="443.4" font-size="16" text-anchor="end">0</text>
<text x="538.5" y="412.74" font-size="16" text-anchor="end">20</text>
<text x="538.5" y="382.08" font-size="16" text-anchor="end">40</text>
<text x="538.5" y="351.42" font-size="16" text-anchor="end">60</text>
<text x="538.5" y="320.76" font-size="16" text-anchor="end">80</text>
<text x="538.5" y="290.1" font-size="16" text-anchor="end">100</text>
<text transform="translate(506.3,358.4) rotate(-90)" font-size="16.4" text-anchor="middle">Relative abundance (%)</text>
<text x="561.1" y="454.9" font-size="14" text-anchor="start">ɑ<tspan dx="1">β</tspan></text>
<text x="578.9" y="454.9" font-size="14" text-anchor="start">(ɑ<tspan dx="1">β</tspan>)<tspan dy="3">3</tspan><tspan dy="-3"></tspan></text>
<text x="629.2" y="454.9" font-size="14" text-anchor="start">ɑ<tspan dx="1">β</tspan></text>
<text x="650.4" y="454.9" font-size="14" text-anchor="start">(ɑ<tspan dx="1">β</tspan>)<tspan dy="3">3</tspan><tspan dy="-3"></tspan></text>
<line x1="559" y1="462.3" x2="609" y2="462.3" stroke="#222" stroke-width="1.1"/>
<line x1="632" y1="462.3" x2="682" y2="462.3" stroke="#222" stroke-width="1.1"/>
<text x="583.5" y="476.6" font-size="14" text-anchor="middle">PC</text>
<text x="651.9" y="476.6" font-size="14" text-anchor="middle">APC</text>
</svg></body></html>
